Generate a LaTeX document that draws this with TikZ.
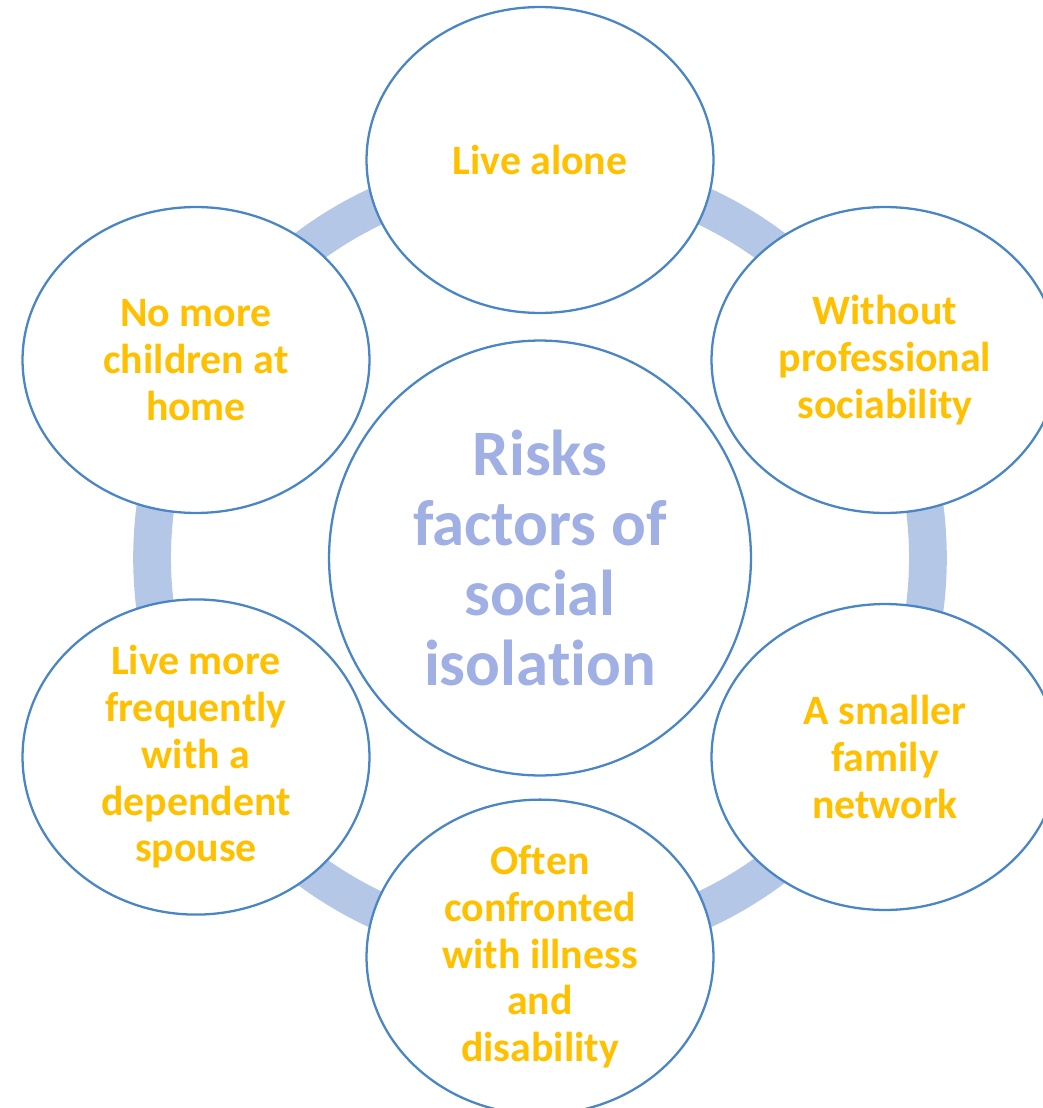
\documentclass[tikz,border=0pt]{standalone}
\usepackage{fontspec}
\setmainfont{Carlito}[Ligatures=NoCommon]
\usepackage{tikz}
\usepackage{xcolor}
\usetikzlibrary{shapes,positioning}

\definecolor{ringblue}{RGB}{180,199,231}
\definecolor{edgeblue}{RGB}{74,134,196}
\definecolor{factor}{RGB}{255,192,0}
\definecolor{hubtext}{RGB}{160,176,228}

\begin{document}
\begin{tikzpicture}[
        x=0.02cm, y=-0.02cm,
        factor/.style={ellipse, draw=edgeblue, line width=1.3pt, fill=white,
                       minimum width=6.94cm, minimum height=6.12cm, inner sep=0pt,
                       align=center, text=factor, font=\fontsize{23.8}{26.6}\selectfont\bfseries},
        hub/.style={ellipse, draw=edgeblue, line width=1.3pt, fill=white,
                    minimum width=8.44cm, minimum height=8.7cm, inner sep=0pt,
                    align=center, text=hubtext, font=\fontsize{36.9}{39.7}\selectfont\bfseries},
        ring/.style={draw=ringblue, line width=21.5pt}
    ]
    \useasboundingbox (0,0) rectangle (1043,1108);
    \clip (0,0) rectangle (1043,1108);

    % ring behind everything
    \coordinate (mid) at (540,558);
    \draw [ring] (mid) circle [radius=7.76cm];

    \node [hub] (risks) at (mid) {Risks\\factors of\\social\\isolation};

    \node [factor] (alone)    at (540,160) {Live alone};
    \node [factor] (work)     at (885,360) {Without\\professional\\sociability};
    \node [factor] (family)   at (885,757) {A smaller\\family\\network};
    \node [factor] (illness)  at (540,957) {Often\\confronted\\with illness\\and\\disability};
    \node [factor] (spouse)   at (196,757) {Live more\\frequently\\with a\\dependent\\spouse};
    \node [factor] (children) at (196,360) {No more\\children at\\home};
\end{tikzpicture}
\end{document}
